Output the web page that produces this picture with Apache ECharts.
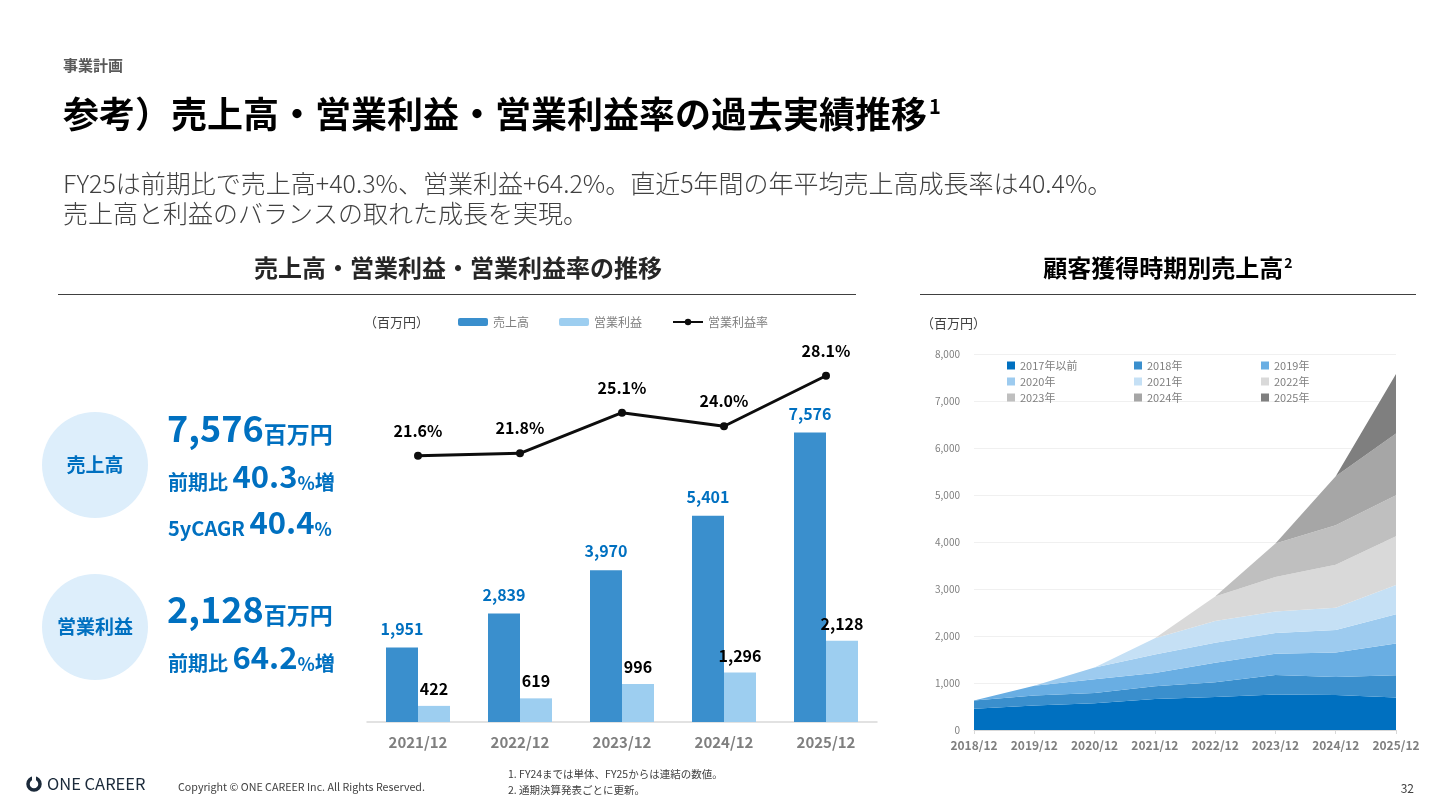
<!DOCTYPE html>
<html>

<head>
  <meta charset="utf-8">
  <title>売上高・営業利益・営業利益率の過去実績推移</title>
  <script src="https://cdn.jsdelivr.net/npm/echarts@6/dist/echarts.min.js"></script>
  <style>
    body { margin: 0; background: #fff; }
  </style>
</head>

<body>
  <div id="main" style="width: 1440px;height:810px;"></div>
  <script type="text/javascript">
    // 左グラフ：売上高・営業利益・営業利益率
    var years = ['2021/12', '2022/12', '2023/12', '2024/12', '2025/12']
    var sales = [1951, 2839, 3970, 5401, 7576]
    var profit = [422, 619, 996, 1296, 2128]
    var margin = [21.6, 21.8, 25.1, 24.0, 28.1]

    // 右グラフ：顧客獲得時期別売上高
    var cohortYears = ['2018/12', '2019/12', '2020/12', '2021/12', '2022/12', '2023/12', '2024/12', '2025/12']
    var cohortNames = ['2017年以前', '2018年', '2019年', '2020年', '2021年', '2022年', '2023年', '2024年', '2025年']
    var c2017 = [450, 521, 571, 657, 700, 757, 743, 693]
    var c2018 = [180, 215, 215, 272, 314, 414, 386, 471]
    var c2019 = [0, 207, 293, 285, 415, 450, 521, 679]
    var c2020 = [0, 0, 250, 393, 428, 443, 479, 621]
    var c2021 = [0, 0, 0, 344, 464, 457, 471, 622]
    var c2022 = [0, 0, 0, 0, 518, 736, 914, 1035]
    var c2023 = [0, 0, 0, 0, 0, 713, 843, 872]
    var c2024 = [0, 0, 0, 0, 0, 0, 1044, 1314]
    var c2025 = [0, 0, 0, 0, 0, 0, 0, 1269]
    var cohortData = [c2017, c2018, c2019, c2020, c2021, c2022, c2023, c2024, c2025]
    var cohortColors = ['#0070C0', '#3A8FCD', '#69AEE3', '#9DCBEF', '#C5E0F5', '#D9D9D9', '#BFBFBF', '#A6A6A6', '#7F7F7F']

    var FONT = '"Noto Sans CJK JP", "Noto Sans", sans-serif'
    var BLUE = '#0070C0'

    function fmt(v) {
      return v.toString().replace(/\B(?=(\d{3})+(?!\d))/g, ',')
    }

    // テキスト用の小さなヘルパー
    function txt(x, y, text, size, color, weight, align) {
      return {
        type: 'text',
        style: {
          x: x, y: y, text: text, fill: color,
          font: (weight || 'normal') + ' ' + size + 'px ' + FONT,
          textAlign: align || 'left', textVerticalAlign: 'middle'
        }
      }
    }

    function kpi(x, y, text, rich) {
      return {
        type: 'text',
        style: {
          x: x, y: y, text: text, textVerticalAlign: 'middle',
          fill: BLUE, fontFamily: FONT, rich: rich
        }
      }
    }

    var kpiRich = {
      big: { fontSize: 36, fontWeight: 'bold', color: BLUE, fontFamily: FONT, verticalAlign: 'bottom', lineHeight: 42 },
      unit: { fontSize: 23, fontWeight: 'bold', color: BLUE, fontFamily: FONT, verticalAlign: 'bottom', lineHeight: 38 },
      lab: { fontSize: 20, fontWeight: 'bold', color: BLUE, fontFamily: FONT, verticalAlign: 'bottom', lineHeight: 34 },
      num: { fontSize: 31, fontWeight: 'bold', color: BLUE, fontFamily: FONT, verticalAlign: 'bottom', lineHeight: 40 },
      pct: { fontSize: 18, fontWeight: 'bold', color: BLUE, fontFamily: FONT, verticalAlign: 'bottom', lineHeight: 34 }
    }

    var cohortSeries = cohortNames.map(function (name, i) {
      return {
        name: name,
        type: 'line',
        xAxisIndex: 1,
        yAxisIndex: 2,
        stack: 'cohort',
        symbol: 'none',
        lineStyle: { width: 0 },
        areaStyle: { color: cohortColors[i], opacity: 1 },
        itemStyle: { color: cohortColors[i] },
        emphasis: { disabled: true },
        data: cohortData[i]
      }
    })

    var myChart = echarts.init(document.getElementById('main'))
    myChart.setOption({
      animation: false,
      backgroundColor: '#fff',
      textStyle: { fontFamily: FONT },
      legend: [{
        data: ['売上高', '営業利益', '営業利益率'],
        left: 458,
        top: 316,
        padding: 0,
        itemWidth: 30,
        itemHeight: 8,
        itemGap: 30,
        textStyle: { fontSize: 12, color: '#7f7f7f' }
      }, {
        data: cohortNames,
        left: 1007,
        top: 359,
        width: 400,
        padding: 0,
        itemWidth: 8,
        itemHeight: 8,
        itemGap: 3,
        icon: 'rect',
        textStyle: { fontSize: 11, color: '#7f7f7f', width: 111, lineHeight: 13 }
      }],
      grid: [
        { left: 367, top: 340, width: 510, height: 382 },
        { left: 974, top: 354, width: 422, height: 376 }
      ],
      xAxis: [{
        type: 'category',
        gridIndex: 0,
        data: years,
        axisLine: { lineStyle: { color: '#d9d9d9', width: 1.5 } },
        axisTick: { show: false },
        axisLabel: { fontSize: 15, fontWeight: 'bold', color: '#7f7f7f', margin: 13 }
      }, {
        type: 'category',
        gridIndex: 1,
        data: cohortYears,
        boundaryGap: false,
        axisLine: { lineStyle: { color: '#d9d9d9' } },
        axisTick: { lineStyle: { color: '#d9d9d9' }, length: 4, interval: 0 },
        axisLabel: { fontSize: 12, fontWeight: 'bold', color: '#7f7f7f', margin: 9, interval: 0, hideOverlap: false }
      }],
      yAxis: [{
        type: 'value', gridIndex: 0, min: 0, max: 10000, show: false
      }, {
        type: 'value', gridIndex: 0, min: 0, max: 31, show: false
      }, {
        type: 'value',
        gridIndex: 1,
        min: 0,
        max: 8000,
        interval: 1000,
        axisLine: { show: false },
        axisTick: { show: false },
        axisLabel: { fontSize: 10, color: '#7f7f7f', margin: 14, formatter: function (v) { return fmt(v) } },
        splitLine: { lineStyle: { color: '#f0f0f0' } }
      }],
      series: [{
        name: '売上高',
        type: 'bar',
        data: sales,
        barWidth: 32,
        barGap: '0%',
        itemStyle: { color: '#3A8FCD' },
        label: {
          show: true, position: 'top', distance: 11,
          fontSize: 16, fontWeight: 'bold', color: BLUE,
          formatter: function (p) { return fmt(p.value) }
        }
      }, {
        name: '営業利益',
        type: 'bar',
        data: profit,
        barWidth: 32,
        itemStyle: { color: '#9DCEF0' },
        label: {
          show: true, position: 'top', distance: 9,
          fontSize: 16, fontWeight: 'bold', color: '#000',
          formatter: function (p) { return fmt(p.value) }
        }
      }, {
        name: '営業利益率',
        type: 'line',
        yAxisIndex: 1,
        data: margin,
        symbol: 'circle',
        symbolSize: 8,
        lineStyle: { color: '#0d0d0d', width: 3 },
        itemStyle: { color: '#0d0d0d' },
        label: {
          show: true, position: 'top', distance: 13,
          fontSize: 16, fontWeight: 'bold', color: '#000',
          formatter: function (p) { return p.value.toFixed(1) + '%' }
        }
      }].concat(cohortSeries),
      graphic: [
        // ヘッダー
        txt(63, 65, '事業計画', 15, '#595959', 'bold'),
        {
          type: 'text',
          style: {
            x: 63, y: 114, textVerticalAlign: 'middle',
            text: '{t|参考）売上高・営業利益・営業利益率の過去実績推移}{s|1}',
            rich: {
              t: { fontSize: 36, fontWeight: 'bold', color: '#262626', fontFamily: FONT },
              s: { fontSize: 20, fontWeight: 'bold', color: '#262626', fontFamily: FONT, verticalAlign: 'top', padding: [0, 0, 0, 2] }
            }
          }
        },
        txt(63, 183, 'FY25は前期比で売上高+40.3%、営業利益+64.2%。直近5年間の年平均売上高成長率は40.4%。', 25, '#404040', '300'),
        txt(63, 213, '売上高と利益のバランスの取れた成長を実現。', 25, '#404040', '300'),

        // セクション見出し
        txt(458, 268, '売上高・営業利益・営業利益率の推移', 24, '#262626', 'bold', 'center'),
        {
          type: 'text',
          style: {
            x: 1168, y: 268, textAlign: 'center', textVerticalAlign: 'middle',
            text: '{t|顧客獲得時期別売上高}{s|2}',
            rich: {
              t: { fontSize: 24, fontWeight: 'bold', color: '#262626', fontFamily: FONT },
              s: { fontSize: 14, fontWeight: 'bold', color: '#262626', fontFamily: FONT, verticalAlign: 'top', padding: [0, 0, 0, 1] }
            }
          }
        },
        { type: 'line', shape: { x1: 58, y1: 294.5, x2: 856, y2: 294.5 }, style: { stroke: '#404040', lineWidth: 1.2 } },
        { type: 'line', shape: { x1: 920, y1: 294.5, x2: 1416, y2: 294.5 }, style: { stroke: '#404040', lineWidth: 1.2 } },
        txt(364, 322, '（百万円）', 13, '#404040'),
        txt(921, 323, '（百万円）', 13, '#404040'),

        // KPI
        { type: 'circle', shape: { cx: 95, cy: 465, r: 53 }, style: { fill: '#DDEEFB' } },
        { type: 'circle', shape: { cx: 95, cy: 627, r: 53 }, style: { fill: '#DDEEFB' } },
        txt(95, 465, '売上高', 19, BLUE, 'bold', 'center'),
        txt(95, 627, '営業利益', 19, BLUE, 'bold', 'center'),
        kpi(167, 425, '{big|7,576}{unit|百万円}', kpiRich),
        kpi(168, 472, '{lab|前期比 }{num|40.3}{pct|%}{lab|増}', kpiRich),
        kpi(168, 518, '{lab|5yCAGR }{num|40.4}{pct|%}', kpiRich),
        kpi(167, 606, '{big|2,128}{unit|百万円}', kpiRich),
        kpi(168, 653, '{lab|前期比 }{num|64.2}{pct|%}{lab|増}', kpiRich),

        // フッター
        { type: 'circle', shape: { cx: 34, cy: 784, r: 6 }, style: { fill: 'none', stroke: '#1b2a3a', lineWidth: 3.5 } },
        { type: 'rect', shape: { x: 32, y: 776, width: 4, height: 5 }, style: { fill: '#fff' } },
        txt(47, 784, 'ONE CAREER', 16.5, '#1b2a3a'),
        txt(178, 787, 'Copyright © ONE CAREER Inc. All Rights Reserved.', 10.7, '#404040'),
        txt(508, 774, '1. FY24までは単体、FY25からは連結の数値。', 10.5, '#404040'),
        txt(508, 790, '2. 通期決算発表ごとに更新。', 10.5, '#404040'),
        txt(1414, 788, '32', 12, '#404040', 'normal', 'right')
      ]
    })
  </script>
</body>

</html>
